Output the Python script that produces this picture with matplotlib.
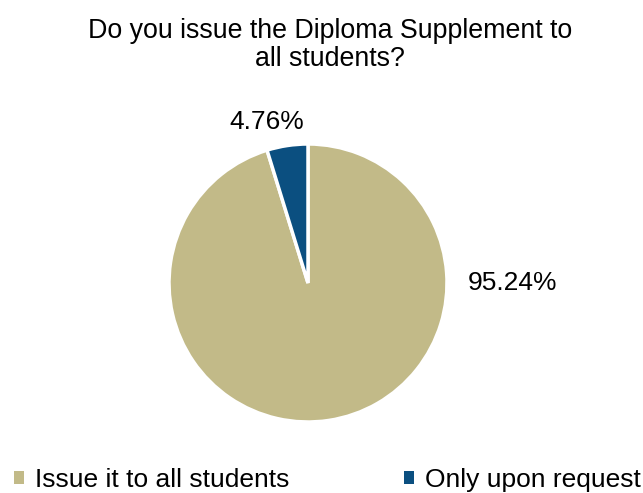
import matplotlib.pyplot as plt
from matplotlib.patches import Patch

labels = ['Issue it to all students', 'Only upon request']
values = [95.24, 4.76]
colors = ['#C2BA88', '#0B4F80']

plt.rcParams['font.family'] = ['Liberation Sans', 'DejaVu Sans']

fig = plt.figure(figsize=(6.43, 4.93), dpi=100)
W, H = 643, 493
cx, cy, r = 308, 283, 139
ax = fig.add_axes([(cx - r) / W, (H - cy - r) / H, 2 * r / W, 2 * r / H])

wedges, _ = ax.pie(values, colors=colors, startangle=90, counterclock=False,
                   wedgeprops=dict(edgecolor='white', linewidth=2.5))
ax.set_xlim(-1, 1)
ax.set_ylim(-1, 1)
ax.set_aspect('equal')

# percentage labels
ax.text(1.47, 0.0, f'{values[0]:.2f}%', ha='center', va='center', fontsize=19)
ax.text(-0.30, 1.16, f'{values[1]:.2f}%', ha='center', va='center', fontsize=19)

fig.text(330 / W, 1 - 45 / H, 'Do you issue the Diploma Supplement to\nall students?',
         ha='center', va='center', fontsize=19.3, linespacing=1.12)

handles = [Patch(facecolor=c, edgecolor='none') for c in colors]
fig.legend(handles, labels, loc='center', bbox_to_anchor=(0.509, 1 - 480 / H),
           ncol=2, frameon=False, handlelength=0.38, handleheight=0.38,
           handletextpad=0.42, columnspacing=4.35, fontsize=19)

fig.savefig('out.png', dpi=100)
